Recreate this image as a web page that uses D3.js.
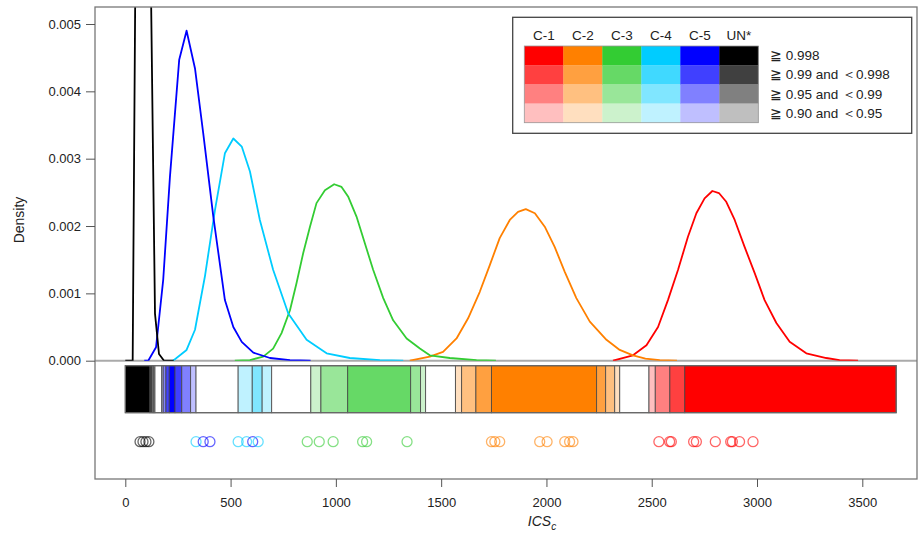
<!DOCTYPE html>
<html>
<head>
<meta charset="utf-8">
<script src="https://cdn.jsdelivr.net/npm/d3@7"></script>
<style>
  body { margin: 0; background: #fff; }
  text { font-family: Arial, "Liberation Sans", sans-serif; fill: #222; }
</style>
</head>
<body>
<svg id="chart" width="918" height="535"></svg>
<script>
// ---- data ----
var clusters = ["C-1", "C-2", "C-3", "C-4", "C-5", "UN*"];
var clusterColors = ["#FF0000", "#FF8000", "#33CC33", "#00CCFF", "#0000FF", "#000000"];
var levelLabels = ["\u2267 0.998", "\u2267 0.99 and \uFF1C0.998", "\u2267 0.95 and \uFF1C0.99", "\u2267 0.90 and \uFF1C0.95"];
var levelAlpha = [1, 0.75, 0.5, 0.25];

var xTicks = [0, 500, 1000, 1500, 2000, 2500, 3000, 3500];
var yTicks = [0, 0.001, 0.002, 0.003, 0.004, 0.005];

// density curves [ICSc, density]
var curveC1 = [[2316,0],[2411,0.00008],[2475,0.00023],[2530,0.0005],[2577,0.0009],[2625,0.00135],[2672,0.00184],[2712,0.00219],[2751,0.00241],[2788,0.00252],[2819,0.00249],[2854,0.00236],[2894,0.00209],[2941,0.00169],[2989,0.0013],[3036,0.0009],[3092,0.00056],[3155,0.00028],[3234,0.00011],[3329,0.00004],[3392,0.00001],[3480,0]];
var curveC2 = [[1351,0],[1446,0.00006],[1509,0.00013],[1573,0.00033],[1628,0.00063],[1683,0.00102],[1731,0.00142],[1778,0.00182],[1826,0.00209],[1865,0.00221],[1902,0.00225],[1945,0.00219],[1992,0.00199],[2039,0.00169],[2087,0.00132],[2142,0.00093],[2206,0.00058],[2285,0.00031],[2348,0.00016],[2411,0.00008],[2470,0.00003],[2538,0.00001],[2620,0]];
var curveC3 = [[520,0],[592,0.00001],[655,0.00006],[702,0.00018],[742,0.00041],[782,0.00075],[813,0.00115],[845,0.0016],[877,0.00199],[908,0.00234],[948,0.00253],[992,0.00262],[1027,0.00258],[1058,0.00244],[1098,0.00214],[1138,0.00174],[1177,0.00135],[1225,0.00093],[1272,0.0006],[1336,0.00033],[1399,0.00018],[1446,0.00008],[1541,0.00004],[1668,0.00001],[1760,0]];
var curveC4 = [[227,0],[291,0.00016],[331,0.00046],[378,0.00125],[426,0.00224],[473,0.00308],[513,0.0033],[553,0.00318],[592,0.00281],[639,0.00209],[702,0.00135],[774,0.0007],[861,0.00031],[956,0.00011],[1066,0.00004],[1209,0.00001],[1320,0]];
var curveC5 = [[90,0],[109,0],[146,0.0002],[180,0.0012],[212,0.00273],[256,0.00447],[291,0.0049],[331,0.00434],[370,0.00338],[418,0.00214],[473,0.0009],[513,0.0005],[553,0.00028],[608,0.00012],[687,0.00004],[782,0.00001],[880,0]];
var curveUN = [[0,0],[35,0],[48,0.0058],[70,0.0115],[95,0.0125],[110,0.0095],[118,0.0065],[141,0.0007],[160,0.0001],[184,0],[230,0]];
var curves = [curveC1, curveC2, curveC3, curveC4, curveC5, curveUN];

// classification bar: [from, to, cluster index (-1 = none), level]
var barSegments = [
  [0,117,5,0],[117,127,5,1],[127,135,5,2],[135,141,5,3],[141,173,-1,0],
  [173,180,4,3],[180,193,4,2],[193,209,4,1],[209,236,4,0],[236,268,4,1],[268,310,4,2],[310,336,4,3],
  [336,536,-1,0],
  [536,603,3,3],[603,650,3,2],[650,695,3,3],
  [695,881,-1,0],
  [881,929,2,3],[929,1056,2,2],[1056,1355,2,1],[1355,1402,2,2],[1402,1426,2,3],
  [1426,1568,-1,0],
  [1568,1597,1,3],[1597,1665,1,2],[1665,1739,1,1],[1739,2238,1,0],[2238,2281,1,1],[2281,2324,1,2],[2324,2348,1,3],
  [2348,2487,-1,0],
  [2487,2517,0,3],[2517,2586,0,2],[2586,2657,0,1],[2657,3661,0,0]
];

// observed samples: [ICSc, cluster index]
var samples = [
  [70,5],[84,5],[98,5],[112,5],
  [336,3],[370,4],[402,4],
  [536,3],[576,3],[605,4],[631,3],
  [864,2],[921,2],[987,2],[1127,2],[1146,2],[1338,2],
  [1739,1],[1755,1],[1778,1],[1968,1],[2003,1],[2087,1],[2110,1],[2126,1],
  [2534,0],[2585,0],[2593,0],[2699,0],[2712,0],[2802,0],[2875,0],[2883,0],[2917,0],[2981,0]
];

// ---- drawing ----
var svg = d3.select("#chart");
var box = {left: 95, top: 7, right: 917, bottom: 479};
var zeroY = 360.7, barTop = 365.7, barBottom = 412.7, dotY = 441.7;

var x = d3.scaleLinear().domain([0, 3500]).range([125.3, 862.3]);
var y = d3.scaleLinear().domain([0, 0.005]).range([zeroY, 24]);

function tint(c, a) {
  var rgb = d3.rgb(c);
  return d3.rgb(rgb.r * a + 255 * (1 - a), rgb.g * a + 255 * (1 - a), rgb.b * a + 255 * (1 - a)).formatHex();
}

svg.append("clipPath").attr("id", "densClip")
  .append("rect").attr("x", box.left).attr("y", box.top)
  .attr("width", box.right - box.left).attr("height", zeroY - box.top);

// zero line
svg.append("line")
  .attr("x1", box.left).attr("x2", box.right).attr("y1", zeroY).attr("y2", zeroY)
  .attr("stroke", "#aaa").attr("stroke-width", 2);

// density curves
var line = d3.line().x(function(d) { return x(d[0]); }).y(function(d) { return y(d[1]); });
var gCurves = svg.append("g").attr("clip-path", "url(#densClip)");
curves.forEach(function(c, i) {
  gCurves.append("path").datum(c)
    .attr("d", line)
    .attr("fill", "none")
    .attr("stroke", clusterColors[i])
    .attr("stroke-width", 1.8)
    .attr("stroke-linejoin", "round");
});

// classification bar
svg.append("g").selectAll("rect").data(barSegments).join("rect")
  .attr("x", function(d) { return x(d[0]); })
  .attr("width", function(d) { return x(d[1]) - x(d[0]); })
  .attr("y", barTop).attr("height", barBottom - barTop)
  .attr("fill", function(d) { return d[2] < 0 ? "#fff" : tint(clusterColors[d[2]], levelAlpha[d[3]]); })
  .attr("stroke", "#444").attr("stroke-opacity", 0.8).attr("stroke-width", 1);

svg.append("rect")
  .attr("x", x(0)).attr("width", x(3661) - x(0))
  .attr("y", barTop).attr("height", barBottom - barTop)
  .attr("fill", "none").attr("stroke", "#666").attr("stroke-width", 1.2);

// sample circles
svg.append("g").selectAll("circle").data(samples).join("circle")
  .attr("cx", function(d) { return x(d[0]); })
  .attr("cy", dotY).attr("r", 5)
  .attr("fill", "none")
  .attr("stroke", function(d) { return clusterColors[d[1]]; })
  .attr("stroke-opacity", 0.6)
  .attr("stroke-width", 1.3);

// frame
svg.append("rect")
  .attr("x", box.left).attr("y", box.top)
  .attr("width", box.right - box.left).attr("height", box.bottom - box.top)
  .attr("fill", "none").attr("stroke", "#777").attr("stroke-width", 1.3);

// y axis
var yAxis = svg.append("g").attr("transform", "translate(" + box.left + ",0)")
  .call(d3.axisLeft(y).tickValues(yTicks).tickFormat(d3.format(".3f")).tickSize(9).tickPadding(5));
yAxis.select(".domain").remove();
yAxis.selectAll("line").attr("stroke", "#555");
yAxis.selectAll("text").attr("font-size", 13).attr("fill", "#222");

// x axis
var xAxis = svg.append("g").attr("transform", "translate(0," + box.bottom + ")")
  .call(d3.axisBottom(x).tickValues(xTicks).tickFormat(d3.format("d")).tickSize(8).tickPadding(11));
xAxis.select(".domain").remove();
xAxis.selectAll("line").attr("stroke", "#555");
xAxis.selectAll("text").attr("font-size", 13).attr("fill", "#222");

// axis titles
svg.append("text")
  .attr("transform", "translate(24,220) rotate(-90)")
  .attr("text-anchor", "middle").attr("font-size", 14)
  .text("Density");

var xt = svg.append("text")
  .attr("x", 542).attr("y", 526)
  .attr("text-anchor", "middle").attr("font-size", 14).attr("font-style", "italic");
xt.append("tspan").text("ICS");
xt.append("tspan").attr("font-size", 10).attr("dy", 4).text("c");

// legend
var lg = svg.append("g");
lg.append("rect")
  .attr("x", 512.7).attr("y", 17.3).attr("width", 399).attr("height", 116)
  .attr("fill", "#fff").attr("stroke", "#444").attr("stroke-width", 1.3);

var cx = d3.scaleBand().domain(clusters).range([524.3, 758.3]);
var ry = d3.scaleBand().domain(d3.range(levelLabels.length)).range([46, 122.7]);

clusters.forEach(function(c, i) {
  lg.append("text")
    .attr("x", cx(c) + cx.bandwidth() / 2).attr("y", 40)
    .attr("text-anchor", "middle").attr("font-size", 13.5)
    .text(c);
  levelAlpha.forEach(function(a, j) {
    lg.append("rect")
      .attr("x", cx(c)).attr("y", ry(j))
      .attr("width", cx.bandwidth() + 0.3).attr("height", ry.bandwidth() + 0.3)
      .attr("fill", tint(clusterColors[i], a));
  });
});
lg.append("rect")
  .attr("x", 524.3).attr("y", 46).attr("width", 234).attr("height", 76.7)
  .attr("fill", "none").attr("stroke", "#999").attr("stroke-width", 0.8);

levelLabels.forEach(function(t, j) {
  lg.append("text")
    .attr("x", 770).attr("y", ry(j) + ry.bandwidth() / 2)
    .attr("dy", "0.35em").attr("font-size", 13.5)
    .text(t);
});
</script>
</body>
</html>
